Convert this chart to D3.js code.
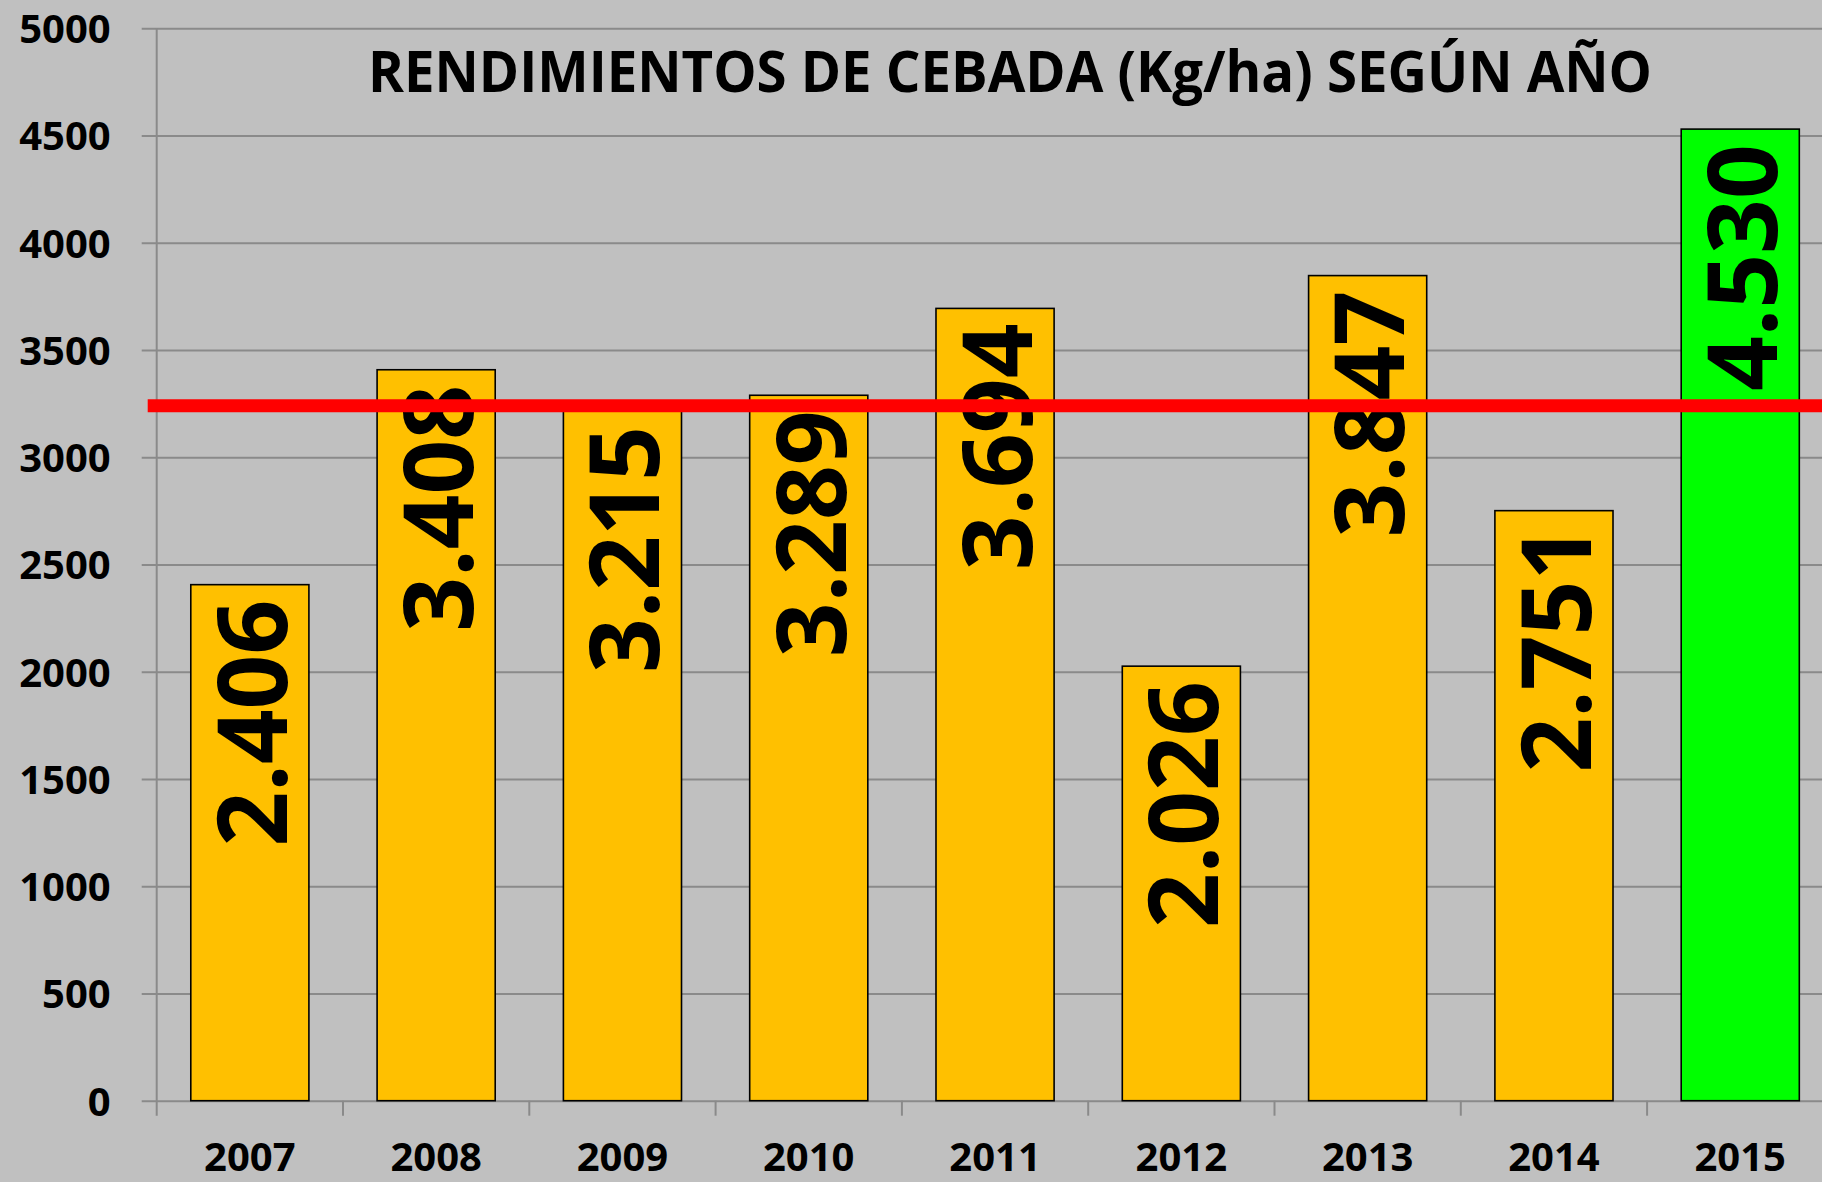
<!DOCTYPE html>
<html>
<head>
<meta charset="utf-8">
<script src="https://cdn.jsdelivr.net/npm/d3@7"></script>
<style>
    html, body { margin: 0; padding: 0; background: #c0c0c0; overflow: hidden; }
    svg { display: block; }
    text { font-family: "Open Sans", "DejaVu Sans", sans-serif; font-weight: bold; fill: #000; }
</style>
</head>
<body>
<svg id="chart"></svg>
<script>
const years = ["2007", "2008", "2009", "2010", "2011", "2012", "2013", "2014", "2015"];
const yields = [2406, 3408, 3215, 3289, 3694, 2026, 3847, 2751, 4530];
const labels = ["2.406", "3.408", "3.215", "3.289", "3.694", "2.026", "3.847", "2.751", "4.530"];
const yTicks = [0, 500, 1000, 1500, 2000, 2500, 3000, 3500, 4000, 4500, 5000];
const title = "RENDIMIENTOS DE CEBADA (Kg/ha) SEGÚN AÑO";

document.addEventListener("DOMContentLoaded", function () {
    const width = 1822;
    const height = 1182;
    const left = 156.7, right = 1833.4; // last band runs past the picture edge
    const top = 28.3, bottom = 1100.7;
    const gridColor = "#8a8a8a";

    const svg = d3.select("#chart")
        .attr("width", width)
        .attr("height", height);

    svg.append("rect")
        .attr("width", width)
        .attr("height", height)
        .attr("fill", "#c0c0c0");

    const x = d3.scaleBand()
        .domain(years)
        .range([left, right])
        .paddingInner(0.366)
        .paddingOuter(0.183);

    const y = d3.scaleLinear()
        .domain([0, 5000])
        .range([bottom, top]);

    // horizontal gridlines + y labels
    const yAxis = d3.axisLeft(y)
        .tickValues(yTicks)
        .tickFormat(d3.format("d"))
        .tickSize(-(width - left))
        .tickPadding(46);

    const yg = svg.append("g")
        .attr("transform", `translate(${left},0)`)
        .call(yAxis);
    yg.select(".domain").remove();
    yg.selectAll(".tick line")
        .attr("x1", -15)
        .attr("stroke", gridColor)
        .attr("stroke-width", 2);
    yg.selectAll(".tick text")
        .attr("font-size", 40)
        .attr("dy", "0.36em");

    // vertical axis line
    svg.append("line")
        .attr("x1", left).attr("x2", left)
        .attr("y1", top).attr("y2", bottom + 15)
        .attr("stroke", gridColor)
        .attr("stroke-width", 2);

    // x axis: ticks between categories
    const gap = (x.step() - x.bandwidth()) / 2;
    const boundaries = years.slice(1).map(d => x(d) - gap);
    svg.append("g")
        .selectAll("line")
        .data(boundaries)
        .enter()
        .append("line")
        .attr("x1", d => d).attr("x2", d => d)
        .attr("y1", bottom).attr("y2", bottom + 15)
        .attr("stroke", gridColor)
        .attr("stroke-width", 2);

    svg.append("g")
        .selectAll("text")
        .data(years)
        .enter()
        .append("text")
        .attr("x", d => x(d) + x.bandwidth() / 2)
        .attr("y", 1171)
        .attr("text-anchor", "middle")
        .attr("font-size", 40)
        .text(d => d);

    // bars
    svg.append("g")
        .selectAll("rect")
        .data(yields)
        .enter()
        .append("rect")
        .attr("x", (d, i) => x(years[i]))
        .attr("y", d => y(d))
        .attr("width", x.bandwidth())
        .attr("height", d => bottom - y(d))
        .attr("fill", (d, i) => i === yields.length - 1 ? "#00ff00" : "#ffc000")
        .attr("stroke", "#000")
        .attr("stroke-width", 1.6);

    // value labels, rotated
    const labelSize = 96;
    svg.append("g")
        .selectAll("text")
        .data(yields)
        .enter()
        .append("text")
        .attr("transform", (d, i) => {
            const cx = x(years[i]) + x.bandwidth() / 2 + labelSize * 0.714 / 2 + 2.5;
            return `translate(${cx},${y(d) + 15}) rotate(-90)`;
        })
        .attr("text-anchor", "end")
        .attr("font-size", labelSize)
        .text((d, i) => labels[i]);

    // average line
    const avg = d3.mean(yields);
    svg.append("line")
        .attr("x1", 147.7).attr("x2", width)
        .attr("y1", y(avg)).attr("y2", y(avg))
        .attr("stroke", "#ff0000")
        .attr("stroke-width", 13);

    // title
    svg.append("text")
        .attr("x", 1010)
        .attr("y", 92.3)
        .attr("text-anchor", "middle")
        .attr("font-size", 57)
        .attr("textLength", 1284)
        .attr("lengthAdjust", "spacingAndGlyphs")
        .text(title);
});
</script>
</body>
</html>
